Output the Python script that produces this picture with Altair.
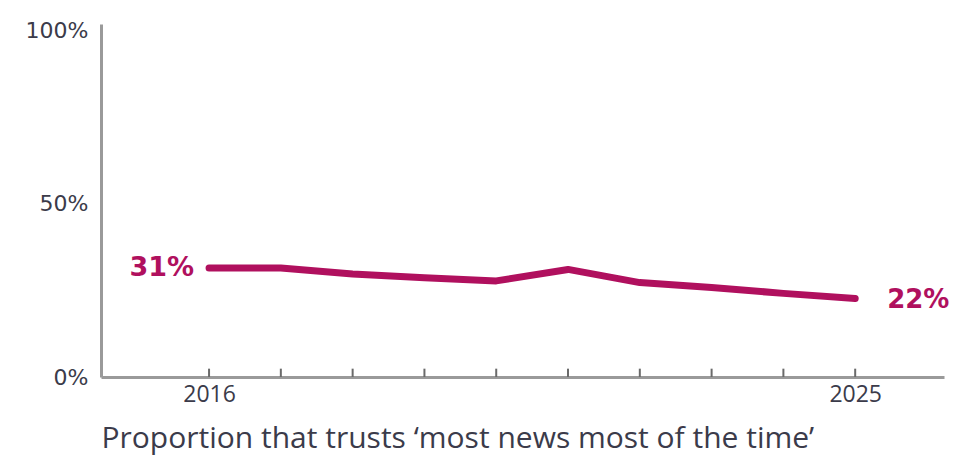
import altair as alt
import pandas as pd

years = [2016, 2017, 2018, 2019, 2020, 2021, 2022, 2023, 2024, 2025]
trust = [31.4, 31.4, 29.7, 28.6, 27.7, 31.0, 27.2, 25.8, 24.1, 22.6]
end_labels = ["31%", "", "", "", "", "", "", "", "", "22%"]
y_ticks = [0, 50, 100]
x_label_years = [2016, 2025]
title_text = "Proportion that trusts \u2018most news most of the time\u2019"

LINE = "#B0105E"
TEXT = "#3b3b4a"
AXIS = "#9a9a9a"

df = pd.DataFrame({"year": years, "trust": trust, "label": end_labels})

xscale = alt.Scale(domain=[2014.495, 2026.237], nice=False, zero=False)
yscale = alt.Scale(domain=[0, 101.73], nice=False)

base = alt.Chart(df)

line = base.mark_line(color=LINE, strokeWidth=7, strokeCap="round", strokeJoin="round").encode(
    x=alt.X("year:Q", scale=xscale,
            axis=alt.Axis(values=x_label_years, format="d", ticks=False, grid=False,
                          domainColor=AXIS, domainWidth=3,
                          labelFont="Open Sans", labelFontSize=23, labelColor=TEXT,
                          labelPadding=6,
                          title=title_text, titleFont="Open Sans", titleFontSize=30,
                          titleFontWeight="normal", titleColor=TEXT,
                          titleAnchor="start", titleAlign="left", titleX=0, titleY=70,
                          titleBaseline="alphabetic")),
    y=alt.Y("trust:Q", scale=yscale,
            axis=alt.Axis(values=y_ticks, labelExpr="datum.value + '%'", ticks=False, grid=False,
                          domainColor=AXIS, domainWidth=3,
                          labelFont="DejaVu Sans", labelFontSize=22, labelColor=TEXT,
                          labelPadding=13, title=None)),
)

ticks = base.mark_rule(color="#6a6a6a", strokeWidth=2).encode(
    x=alt.X("year:Q", scale=xscale),
    y=alt.datum(0, scale=yscale),
    y2=alt.datum(2.4),
)

left_lab = base.transform_filter("datum.year == 2016").mark_text(
    align="right", baseline="middle", dx=-15, dy=0, font="DejaVu Sans", fontWeight="bold",
    fontSize=27, color=LINE
).encode(x=alt.X("year:Q", scale=xscale), y=alt.Y("trust:Q", scale=yscale), text="label:N")

right_lab = base.transform_filter("datum.year == 2025").mark_text(
    align="left", baseline="middle", dx=32, dy=1, font="DejaVu Sans", fontWeight="bold",
    fontSize=26, color=LINE
).encode(x=alt.X("year:Q", scale=xscale), y=alt.Y("trust:Q", scale=yscale), text="label:N")

chart = alt.layer(ticks, line, left_lab, right_lab).properties(
    width=843, height=353,
    background="white",
    autosize=alt.AutoSizeParams(type="none"),
    padding={"left": 93, "top": 16, "right": 6, "bottom": 86},
).configure_view(stroke=None)

chart.save("out.html", embed_options={"renderer": "svg", "actions": False})
